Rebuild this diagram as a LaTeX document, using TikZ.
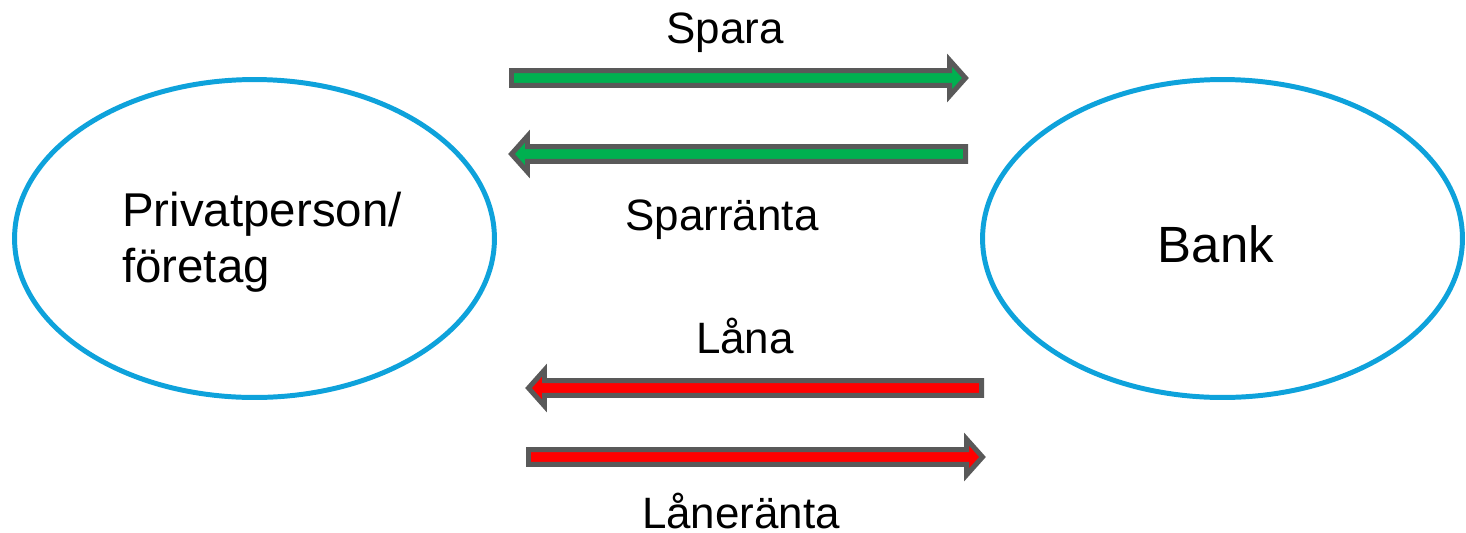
\documentclass[tikz,border=0pt]{standalone}
\usepackage{fontspec}
\setmainfont{Liberation Sans}
\usepackage{tikz}
\usetikzlibrary{shapes.geometric,calc}
\definecolor{ringblue}{RGB}{14,162,219}
\definecolor{savegreen}{RGB}{0,176,80}
\definecolor{loanred}{RGB}{255,0,0}
\definecolor{edgegray}{RGB}{89,89,89}

% block arrow from tail #2 to tip #3, filled with #1
\newcommand{\blockarrow}[3]{%
  \draw[flow, fill=#1] let \p1=(#2), \p2=(#3), \n1={sign(\x2-\x1)} in
    (\x1,{\y1+4.25pt}) -- ({\x2-\n1*9.1pt},{\y1+4.25pt}) -- ({\x2-\n1*9.1pt},{\y1+10.2pt})
    -- (\x2,\y2) -- ({\x2-\n1*9.1pt},{\y1-10.2pt}) -- ({\x2-\n1*9.1pt},{\y1-4.25pt})
    -- (\x1,{\y1-4.25pt}) -- cycle;}

\begin{document}
\begin{tikzpicture}[x=0.02cm, y=-0.02cm]
\tikzset{party/.style = {shape=ellipse, draw=ringblue, line width=2.83pt, inner sep=0pt, outer sep=0pt,
    minimum width=9.6cm, minimum height=6.36cm}}
    \tikzset{flow/.style = {draw=edgegray, line width=2.83pt, line join=miter}}
    \tikzset{tag/.style = {anchor=base, inner sep=0pt, font=\fontsize{25}{30}\selectfont}}
\useasboundingbox (0,0) rectangle (1466,532);

% the two parties
\node[party] (priv) at (254.5,238.5){};
\node[party] (bank) at (1222.5,238.5){};
\node[align=left, inner sep=0pt, font=\fontsize{27}{31.75}\selectfont] (privtext) at (262,242){Privatperson/\\företag};
\node[anchor=base, inner sep=0pt, font=\fontsize{29}{34}\selectfont] (banktext) at (1216,262){Bank};

% ends of the arrows
\coordinate (s1) at (511.5,78);
\coordinate (s2) at (965.5,78);
\coordinate (r1) at (965.5,154);
\coordinate (r2) at (511.5,154);
\coordinate (l1) at (981.5,388);
\coordinate (l2) at (528.5,388);
\coordinate (k1) at (528.5,457);
\coordinate (k2) at (982.5,457);

% the arrows
\blockarrow{savegreen}{s1}{s2}
\blockarrow{savegreen}{r1}{r2}
\blockarrow{loanred}{l1}{l2}
\blockarrow{loanred}{k1}{k2}

% labels
\node[tag] (spara) at (725,43){Spara};
\node[tag] (sparranta) at (722,230){Sparränta};
\node[tag] (lana) at (745,353){Låna};
\node[tag] (laneranta) at (741,528){Låneränta};
\end{tikzpicture}
\end{document}
